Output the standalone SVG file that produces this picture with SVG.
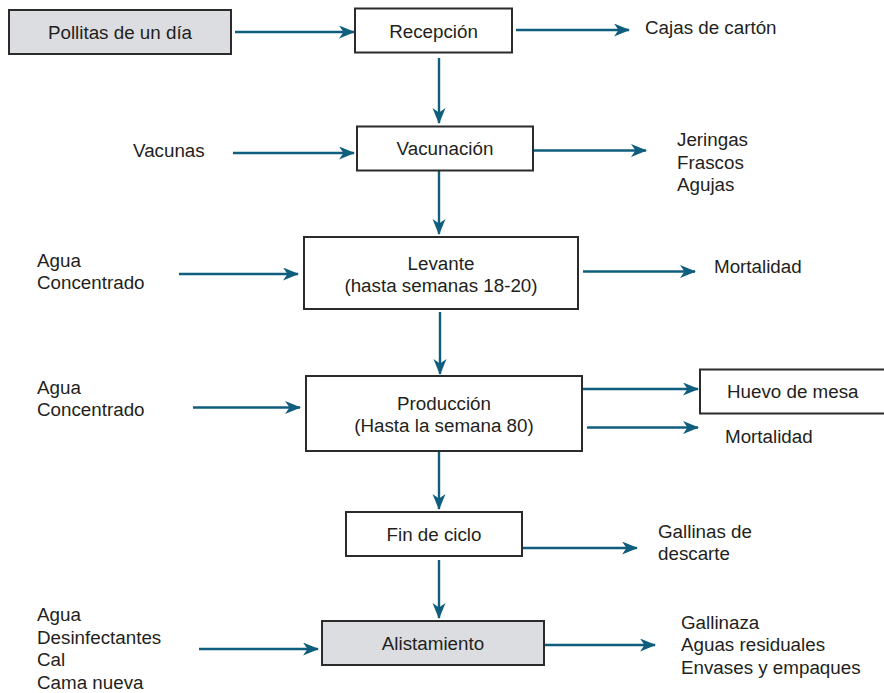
<svg xmlns="http://www.w3.org/2000/svg" width="884" height="693" viewBox="0 0 884 693">
<style>
text{font-family:"Liberation Sans",Arial,sans-serif;font-size:18.8px;fill:#231f20}
.box{fill:#fff;stroke:#2b2b2b;stroke-width:2}
.gray{fill:#dcdde0}
.c{text-anchor:middle}
.ln{stroke:#0f5e7e;stroke-width:2.4;fill:none;marker-end:url(#ah)}
</style>
<defs>
<marker id="ah" markerUnits="userSpaceOnUse" markerWidth="18" markerHeight="14" refX="15" refY="6.5" orient="auto">
<path d="M0,0 L16,6.5 L0,13 L4.5,6.5 Z" fill="#0f5e7e"/>
</marker>
</defs>
<rect width="884" height="693" fill="#fff"/>
<g id="connectors">
<line class="ln" x1="235" y1="32" x2="354" y2="32"/>
<line class="ln" x1="516" y1="30" x2="629" y2="30"/>
<line class="ln" x1="439" y1="58" x2="439" y2="123"/>
<line class="ln" x1="233" y1="153" x2="354" y2="153"/>
<line class="ln" x1="534" y1="150.5" x2="646" y2="150.5"/>
<line class="ln" x1="439" y1="171" x2="439" y2="234"/>
<line class="ln" x1="179" y1="274" x2="298" y2="274"/>
<line class="ln" x1="583" y1="271.5" x2="695" y2="271.5"/>
<line class="ln" x1="440" y1="312" x2="440" y2="374"/>
<line class="ln" x1="193" y1="407.5" x2="300" y2="407.5"/>
<line class="ln" x1="582" y1="389" x2="698" y2="389"/>
<line class="ln" x1="587" y1="427.5" x2="698" y2="427.5"/>
<line class="ln" x1="439" y1="452" x2="439" y2="509"/>
<line class="ln" x1="523" y1="548" x2="637" y2="548"/>
<line class="ln" x1="439" y1="560" x2="439" y2="618"/>
<line class="ln" x1="199" y1="649" x2="318" y2="649"/>
<line class="ln" x1="545" y1="645" x2="655" y2="645"/>
</g>
<g id="pollitas">
<rect class="box gray" x="9" y="10" width="222" height="44"/>
<text class="c" x="120" y="39">Pollitas de un día</text>
</g>
<g id="recepcion">
<rect class="box" x="355" y="8.5" width="157" height="44"/>
<text class="c" x="433.5" y="38">Recepción</text>
</g>
<g id="cajas">
<text x="645" y="34">Cajas de cartón</text>
</g>
<g id="vacunas">
<text x="133" y="157">Vacunas</text>
</g>
<g id="vacunacion">
<rect class="box" x="357" y="126.5" width="176" height="44"/>
<text class="c" x="445" y="155">Vacunación</text>
</g>
<g id="residuos-vacunacion">
<text x="677" y="146">Jeringas</text>
<text x="677" y="168.5">Frascos</text>
<text x="677" y="191">Agujas</text>
</g>
<g id="insumos-levante">
<text x="37" y="267">Agua</text>
<text x="37" y="289">Concentrado</text>
</g>
<g id="levante">
<rect class="box" x="304" y="237" width="274" height="72"/>
<text class="c" x="441" y="269.5">Levante</text>
<text class="c" x="441" y="291.5">(hasta semanas 18-20)</text>
</g>
<g id="mortalidad-levante">
<text x="714" y="273">Mortalidad</text>
</g>
<g id="insumos-produccion">
<text x="37" y="393.5">Agua</text>
<text x="37" y="415.5">Concentrado</text>
</g>
<g id="produccion">
<rect class="box" x="306" y="376" width="276" height="75"/>
<text class="c" x="444" y="409.5">Producción</text>
<text class="c" x="444" y="431.5">(Hasta la semana 80)</text>
</g>
<g id="huevo">
<rect class="box" x="700" y="369.5" width="190" height="44"/>
<text x="727" y="398">Huevo de mesa</text>
</g>
<g id="mortalidad-produccion">
<text x="725" y="443">Mortalidad</text>
</g>
<g id="fin-ciclo">
<rect class="box" x="346" y="512" width="176" height="44"/>
<text class="c" x="434" y="541">Fin de ciclo</text>
</g>
<g id="gallinas-descarte">
<text x="658" y="537.5">Gallinas de</text>
<text x="658" y="560">descarte</text>
</g>
<g id="insumos-alistamiento">
<text x="37" y="621">Agua</text>
<text x="37" y="643.5">Desinfectantes</text>
<text x="37" y="666">Cal</text>
<text x="37" y="688.5">Cama nueva</text>
</g>
<g id="alistamiento">
<rect class="box gray" x="322" y="621" width="222" height="44"/>
<text class="c" x="433" y="650">Alistamiento</text>
</g>
<g id="residuos-alistamiento">
<text x="681" y="628.5">Gallinaza</text>
<text x="681" y="651">Aguas residuales</text>
<text x="681" y="673.5">Envases y empaques</text>
</g>
</svg>
